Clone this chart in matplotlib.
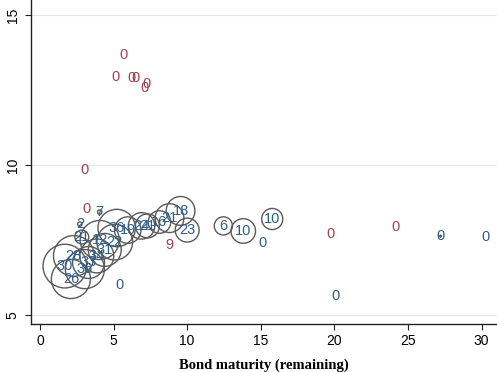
import matplotlib
matplotlib.use("Agg")
import matplotlib.pyplot as plt

plt.rcParams["font.family"] = ["Liberation Sans", "DejaVu Sans"]

# Blue labelled bubbles (maturity, yield, label, weight)
blue_x = [1.69, 2.10, 3.05, 2.30, 3.86, 3.30, 2.84, 4.06, 5.08, 4.40, 5.21, 5.96,
          6.90, 7.30, 8.12, 8.80, 9.55, 10.0, 12.46, 13.81, 15.78, 2.71, 4.06]
blue_y = [6.63, 6.20, 6.53, 6.97, 6.97, 6.75, 7.60, 7.50, 7.43, 7.17, 7.90, 7.83,
          7.97, 7.97, 8.10, 8.23, 8.47, 7.83, 7.97, 7.80, 8.20, 8.03, 8.43]
blue_lab = ["30", "26", "36", "28", "34", "33", "21", "12", "22", "31", "36", "19",
            "24", "21", "16", "21", "18", "23", "6", "10", "10", "2", "7"]
blue_w = [30, 24, 24, 26, 18, 16, 3, 24, 20, 17, 22, 11,
          11, 9, 8, 13, 13, 9, 5.2, 9.5, 7, 0.3, 0.3]

# Blue zero-weight labels
zero_x = [5.42, 15.10, 20.10, 27.22, 30.26]
zero_y = [6.00, 7.40, 5.63, 7.63, 7.60]
zero_lab = ["0", "0", "0", "0", "0"]
zero_w = [0, 0, 0, 0.05, 0]

# Red labels
red_x = [5.69, 5.15, 6.23, 6.50, 7.24, 7.10, 3.05, 3.18, 8.80, 19.77, 24.17]
red_y = [13.67, 12.93, 12.90, 12.90, 12.70, 12.57, 9.83, 8.53, 7.33, 7.70, 7.93]
red_lab = ["0", "0", "0", "0", "0", "0", "0", "0", "9", "0", "0"]

x_ticks = [0, 5, 10, 15, 20, 25, 30]
y_ticks = [5, 10, 15]
x_label = "Bond maturity (remaining)"

BLUE = "#2e5e8c"
RED = "#a0434c"
GREY = "#5a5a5a"

fig = plt.figure(figsize=(4.97, 3.72), dpi=100)
ax = fig.add_axes([31/497, 1-324/372, 466/497, 324/372])
ax.set_xlim(-0.61, 31.05)
ax.set_ylim(4.7, 15.5)

for yt in y_ticks:
    ax.axhline(yt, color="#e6e6e6", lw=0.8, zorder=0)

ax.scatter(blue_x, blue_y, s=[33 * w for w in blue_w], facecolors="none",
           edgecolors=GREY, linewidths=1.0, zorder=2)
ax.scatter(zero_x, zero_y, s=[33 * w for w in zero_w], facecolors="none",
           edgecolors=GREY, linewidths=1.0, zorder=2)

font = dict(fontsize=10.5, ha="center", va="center", zorder=3)
for x, y, t in zip(blue_x, blue_y, blue_lab):
    ax.text(x, y, t, color=BLUE, **font)
for x, y, t in zip(zero_x, zero_y, zero_lab):
    ax.text(x, y, t, color=BLUE, **font)
for x, y, t in zip(red_x, red_y, red_lab):
    ax.text(x, y, t, color=RED, **font)

ax.spines["top"].set_visible(False)
ax.spines["right"].set_visible(False)
for sp in ["left", "bottom"]:
    ax.spines[sp].set_linewidth(1.0)
    ax.spines[sp].set_color("#222222")

ax.set_xticks(x_ticks)
ax.set_yticks(y_ticks)
ax.tick_params(axis="both", length=4, width=0.8, color="#222222", labelsize=10)
ax.tick_params(axis="y", pad=4, labelrotation=90)
for lab in ax.get_yticklabels():
    lab.set_va("center")

ax.set_xlabel(x_label, family="Liberation Serif", fontweight="bold", fontsize=10.5, labelpad=7)

fig.savefig("out.png", dpi=100)
